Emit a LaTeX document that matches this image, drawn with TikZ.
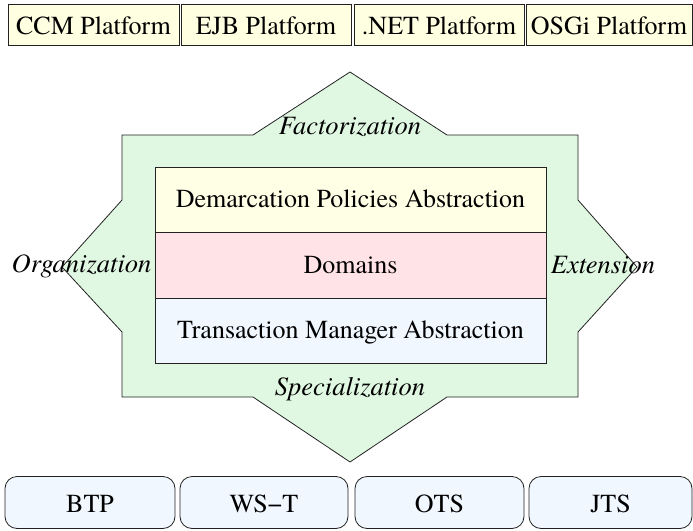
\documentclass[tikz,border=0pt]{standalone}
\usepackage{fontspec}
\setmainfont{texgyretermes}[Extension=.otf, UprightFont=*-regular,
  ItalicFont=*-italic, BoldFont=*-bold, BoldItalicFont=*-bolditalic]
\usetikzlibrary{positioning}

\definecolor{platformfill}{HTML}{FFFFE2}
\definecolor{demarcfill}{HTML}{FFFFE6}
\definecolor{domainfill}{HTML}{FFE3E6}
\definecolor{tmfill}{HTML}{F0F7FF}
\definecolor{starfill}{HTML}{E0F7E2}
\definecolor{protofill}{HTML}{F0F7FF}
\definecolor{edge}{HTML}{222222}

\tikzset{
  platform/.style={draw=edge, line width=1pt, fill=platformfill, inner sep=0pt,
    minimum height=41pt, font=\fontsize{26}{30}\selectfont, text height=19pt, text depth=-2pt},
  layer/.style={draw=edge, line width=0.8pt, inner sep=0pt, minimum width=391pt,
    minimum height=65.7pt, font=\fontsize{26}{30}\selectfont, text height=15pt, text depth=0pt},
  protocol/.style={draw=edge, line width=0.8pt, fill=protofill, rounded corners=12pt,
    inner sep=0pt, minimum height=52pt, font=\fontsize{26}{30}\selectfont,
    text height=19pt, text depth=-2pt},
  starshape/.style={draw=edge, line width=0.8pt, fill=starfill},
  axis/.style={font=\itshape\fontsize{26.5}{30}\selectfont, anchor=base, inner sep=0pt},
}

\begin{document}
\begin{tikzpicture}[x=1pt, y=-1pt]
  \useasboundingbox (0,0) rectangle (693,530);

  % eight-pointed reuse outline around the layered core
  \draw[starshape] (350,72) -- (447,135) -- (578,135) -- (578,200) -- (637,267)
    -- (578,332) -- (578,397) -- (447,397) -- (350,462) -- (253,397)
    -- (122,397) -- (122,332) -- (62,267) -- (122,200) -- (122,135)
    -- (253,135) -- cycle;

  % layered core
  \node[layer, fill=demarcfill] (demarc) at (350.5,200) {Demarcation Policies Abstraction};
  \node[layer, fill=domainfill] (domains) at (350.5,265.5) {Domains};
  \node[layer, fill=tmfill] (tm) at (350.5,331) {Transaction Manager Abstraction};

  % axis labels
  \node[axis] (fact) at (350,134) {Factorization};
  \node[axis] (org) at (81.5,272) {Organization};
  \node[axis] (ext) at (603,273) {Extension};
  \node[axis] (spec) at (350,395) {Specialization};

  % component platforms
  \node[platform, minimum width=171pt] (ccm) at (93.5,24.5) {CCM Platform};
  \node[platform, minimum width=170pt] (ejb) at (266,24.5) {EJB Platform};
  \node[platform, minimum width=170pt] (net) at (439,24.5) {.NET Platform};
  \node[platform, minimum width=166pt] (osgi) at (609,24.5) {OSGi Platform};

  % transaction protocols
  \node[protocol, minimum width=170pt] (btp) at (90,502.5) {BTP};
  \node[protocol, minimum width=168pt] (wst) at (264,502.5) {WS−T};
  \node[protocol, minimum width=169pt] (ots) at (439.5,502.5) {OTS};
  \node[protocol, minimum width=163pt] (jts) at (610.5,502.5) {JTS};
\end{tikzpicture}
\end{document}
